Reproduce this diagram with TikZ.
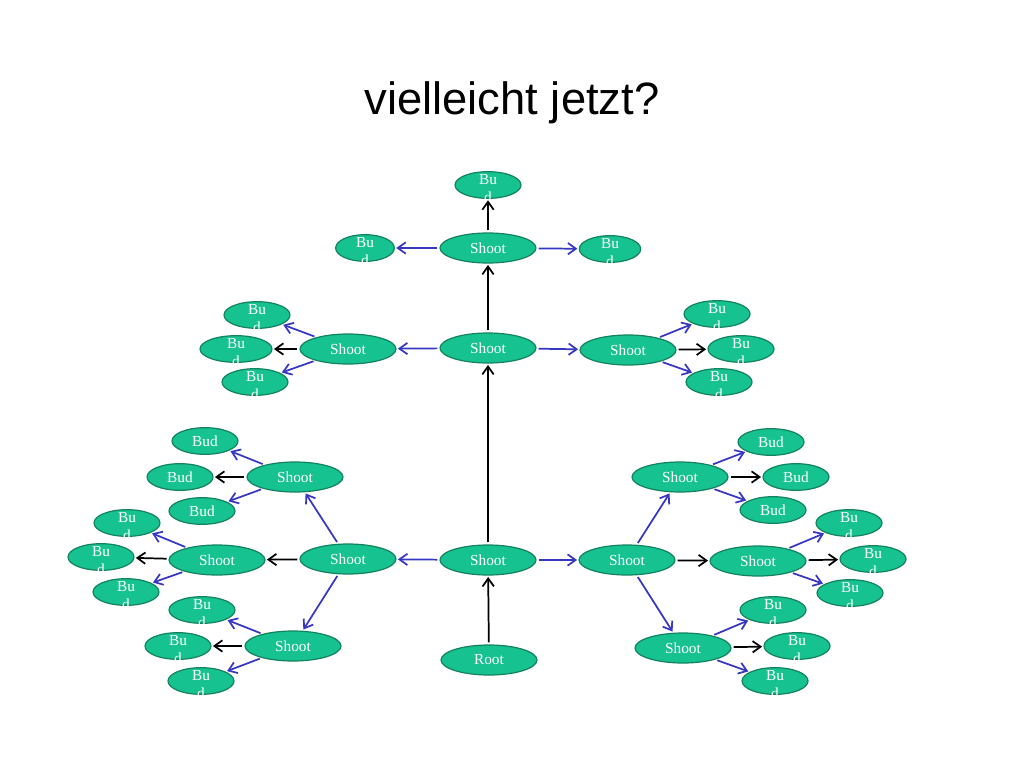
\documentclass[tikz,border=0pt]{standalone}
\usepackage{fontspec}
\setmainfont{Liberation Serif}
\newfontfamily\titlefont{Liberation Sans}
\usetikzlibrary{shapes.geometric,arrows.meta}
\definecolor{fillc}{RGB}{22,194,143}
\definecolor{edgec}{RGB}{18,130,95}
\definecolor{bluec}{RGB}{55,55,195}
\tikzset{
  shoot/.style={ellipse, draw=edgec, line width=0.9pt, fill=fillc, minimum width=72pt, minimum height=22.5pt, inner sep=0pt, text=white, font=\fontsize{11.5}{13}\selectfont},
  bud/.style={ellipse, draw=edgec, line width=0.9pt, fill=fillc, minimum width=49.5pt, minimum height=20pt, inner sep=0pt, text=white, font=\fontsize{11.5}{13}\selectfont},
  budtext/.style={text=white, align=center, inner sep=0pt, yshift=-3pt, font=\fontsize{11.5}{13.5}\selectfont},
  ka/.style={draw=black, line width=1.3pt, -{Straight Barb[length=6pt,width=8.5pt]}, shorten <=1.5pt, shorten >=1pt},
  ba/.style={draw=bluec, line width=1.3pt, -{Straight Barb[length=6pt,width=8.5pt]}, shorten <=1.5pt, shorten >=1pt},
}
\begin{document}
\begin{tikzpicture}[x=0.75pt,y=-0.75pt]
\useasboundingbox[fill=white] (0,0) rectangle (1024,768);
\node[font=\titlefont\fontsize{34}{40}\selectfont] (title) at (512,103) {vielleicht jetzt?};

% central column
\node[shoot] (root) at (489,660) {Root};
\node[shoot] (sc1) at (488,560) {Shoot};
\node[shoot] (sc2) at (488,348) {Shoot};
\node[shoot] (sc3) at (488,248) {Shoot};
\node[bud, label={[budtext]center:Bu\\d}] (bt) at (488,185) {};
\node[bud, minimum width=44pt, label={[budtext]center:Bu\\d}] (btl) at (365,248) {};
\node[bud, minimum width=46pt, label={[budtext]center:Bu\\d}] (btr) at (610,249) {};

% middle row
\node[shoot] (sml) at (348,349) {Shoot};
\node[shoot] (smr) at (628,350) {Shoot};
\node[bud, label={[budtext]center:Bu\\d}] (mlb1) at (257,315) {};
\node[bud, minimum width=54pt, label={[budtext]center:Bu\\d}] (mlb2) at (236,349) {};
\node[bud, label={[budtext]center:Bu\\d}] (mlb3) at (255,382) {};
\node[bud, label={[budtext]center:Bu\\d}] (mrb1) at (717,314) {};
\node[bud, label={[budtext]center:Bu\\d}] (mrb2) at (741,349) {};
\node[bud, label={[budtext]center:Bu\\d}] (mrb3) at (719,382) {};

% bottom row
\node[shoot] (sbl) at (348,559) {Shoot};
\node[shoot] (sbr) at (627,560) {Shoot};

% left groups
\node[shoot] (lu) at (295,477) {Shoot};
\node[bud] (lub1) at (205,441) {Bud};
\node[bud] (lub2) at (180,477) {Bud};
\node[bud] (lub3) at (202,511) {Bud};
\node[shoot] (lm) at (217,560) {Shoot};
\node[bud, label={[budtext]center:Bu\\d}] (lmb1) at (127,523) {};
\node[bud, label={[budtext]center:Bu\\d}] (lmb2) at (101,557) {};
\node[bud, label={[budtext]center:Bu\\d}] (lmb3) at (126,592) {};
\node[shoot] (ll) at (293,646) {Shoot};
\node[bud, label={[budtext]center:Bu\\d}] (llb1) at (202,610) {};
\node[bud, label={[budtext]center:Bu\\d}] (llb2) at (178,646) {};
\node[bud, label={[budtext]center:Bu\\d}] (llb3) at (201,681) {};

% right groups
\node[shoot] (ru) at (680,477) {Shoot};
\node[bud] (rub1) at (771,442) {Bud};
\node[bud] (rub2) at (796,477) {Bud};
\node[bud] (rub3) at (773,510) {Bud};
\node[shoot] (rm) at (758,561) {Shoot};
\node[bud, label={[budtext]center:Bu\\d}] (rmb1) at (849,523) {};
\node[bud, label={[budtext]center:Bu\\d}] (rmb2) at (873,559) {};
\node[bud, label={[budtext]center:Bu\\d}] (rmb3) at (850,593) {};
\node[shoot] (rl) at (683,648) {Shoot};
\node[bud, label={[budtext]center:Bu\\d}] (rlb1) at (773,610) {};
\node[bud, label={[budtext]center:Bu\\d}] (rlb2) at (797,646) {};
\node[bud, label={[budtext]center:Bu\\d}] (rlb3) at (775,681) {};

% black arrows
\draw[ka] (root) -- (sc1);
\draw[ka] (sc1) -- (sc2);
\draw[ka] (sc2) -- (sc3);
\draw[ka] (sc3) -- (bt);
\draw[ka] (sml) -- (mlb2);
\draw[ka] (smr) -- (mrb2);
\draw[ka] (sbl) -- (lm);
\draw[ka] (sbr) -- (rm);
\draw[ka] (lu) -- (lub2);
\draw[ka] (lm) -- (lmb2);
\draw[ka] (ll) -- (llb2);
\draw[ka] (ru) -- (rub2);
\draw[ka] (rm) -- (rmb2);
\draw[ka] (rl) -- (rlb2);

% blue arrows
\draw[ba] (sc3) -- (btl);
\draw[ba] (sc3) -- (btr);
\draw[ba] (sc2) -- (sml);
\draw[ba] (sc2) -- (smr);
\draw[ba] (sc1) -- (sbl);
\draw[ba] (sc1) -- (sbr);
\draw[ba] (sml) -- (mlb1);
\draw[ba] (sml) -- (mlb3);
\draw[ba] (smr) -- (mrb1);
\draw[ba] (smr) -- (mrb3);
\draw[ba] (sbl) -- (lu);
\draw[ba] (sbl) -- (ll);
\draw[ba] (sbr) -- (ru);
\draw[ba] (sbr) -- (rl);
\draw[ba] (lu) -- (lub1);
\draw[ba] (lu) -- (lub3);
\draw[ba] (lm) -- (lmb1);
\draw[ba] (lm) -- (lmb3);
\draw[ba] (ll) -- (llb1);
\draw[ba] (ll) -- (llb3);
\draw[ba] (ru) -- (rub1);
\draw[ba] (ru) -- (rub3);
\draw[ba] (rm) -- (rmb1);
\draw[ba] (rm) -- (rmb3);
\draw[ba] (rl) -- (rlb1);
\draw[ba] (rl) -- (rlb3);
\end{tikzpicture}
\end{document}
